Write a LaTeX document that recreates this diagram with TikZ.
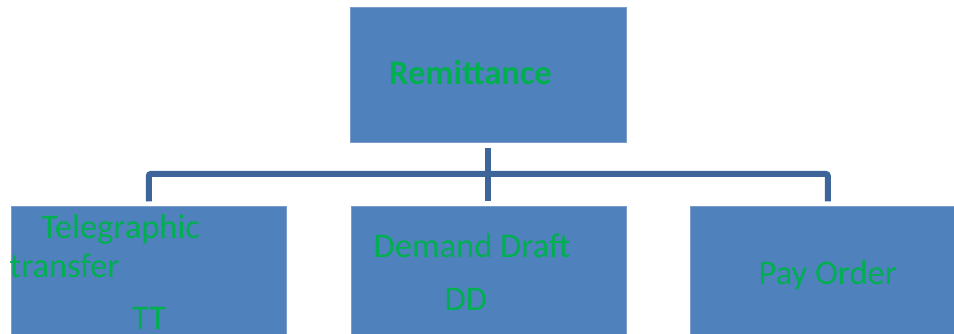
\documentclass[tikz,border=0pt]{standalone}
\usepackage{fontspec}
\setmainfont{Carlito}
\definecolor{boxfill}{HTML}{4F81BD}
\definecolor{boxedge}{HTML}{7A9CCB}
\definecolor{connc}{HTML}{3E6599}
\definecolor{txtg}{HTML}{00B050}
\tikzset{
  orgbox/.style={draw=boxedge, line width=0.6pt, fill=boxfill, minimum width=276pt, minimum height=135pt, inner sep=0pt},
  lowbox/.style={orgbox, minimum width=275pt, minimum height=140pt, anchor=north west},
  lbl/.style={anchor=base west, inner sep=0pt, text=txtg, font=\fontsize{34.5pt}{40pt}\selectfont},
  conn/.style={draw=connc, line width=6pt, rounded corners=2pt},
}
\begin{document}
\begin{tikzpicture}[x=1pt,y=1pt]
\useasboundingbox (0,0) rectangle (954,-334);
\fill[white] (0,0) rectangle (954,-334);
% boxes
\node[orgbox, anchor=north west] (rem) at (350,-7) {};
\node[lowbox] (tt) at (11,-206.5) {};
\node[lowbox] (dd) at (350.5,-206.5) {};
\node[lowbox] (po) at (690,-206.5) {};
% connectors
\coordinate (bus) at (488,-174);
\draw[conn, shorten <=5pt, shorten >=5pt] (rem.south) -- (dd.north);
\draw[conn] ([yshift=5pt]tt.north) |- (bus) -| ([yshift=5pt]po.north);
% labels
\node[lbl, font=\fontsize{34.5pt}{40pt}\selectfont\bfseries] (tRem) at (389,-85) {Remittance};
\node[lbl] (tTel) at (41,-239) {Telegraphic};
\node[lbl] (tTra) at (9.5,-277) {transfer};
\node[lbl] (tTT) at (132,-329) {TT};
\node[lbl] (tDem) at (373.5,-257) {Demand Draft};
\node[lbl] (tDD) at (444.5,-310) {DD};
\node[lbl] (tPay) at (758.5,-284) {Pay Order};
\end{tikzpicture}
\end{document}
